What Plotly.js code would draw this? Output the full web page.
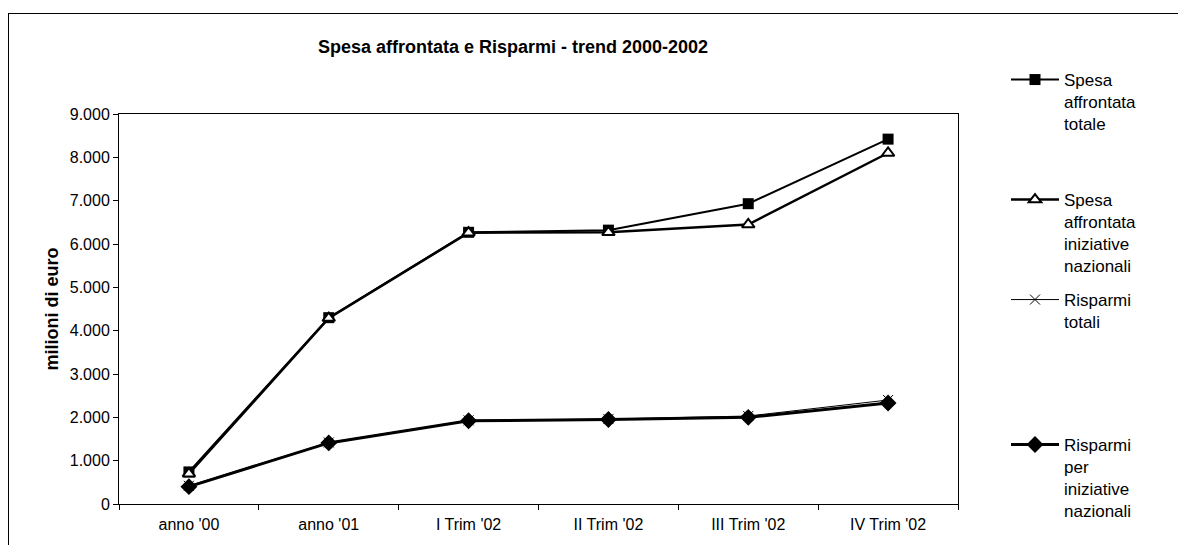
<!DOCTYPE html>
<html>
<head>
<meta charset="utf-8">
<script src="https://cdn.plot.ly/plotly-3.0.1.min.js"></script>
<style>
  html, body { margin: 0; padding: 0; background: #fff; }
  #frame { position: absolute; left: 8px; top: 13px; width: 1178px; height: 545px;
           border-left: 1px solid #000; border-top: 1px solid #000; }
  #chart { position: absolute; left: 0; top: 0; width: 1178px; height: 545px; }
</style>
</head>
<body>
<div id="frame"></div>
<div id="chart"></div>
<script>
const categories = ["anno '00", "anno '01", "I Trim '02", "II Trim '02", "III Trim '02", "IV Trim '02"];
const spesaTotale = [740, 4300, 6270, 6320, 6930, 8420];
const spesaNazionali = [700, 4290, 6260, 6270, 6450, 8100];
const risparmiTotali = [420, 1420, 1930, 1960, 2030, 2400];
const risparmiNazionali = [400, 1410, 1920, 1950, 2000, 2330];
const seriesNames = [
  "Spesa<br>affrontata<br>totale",
  "Spesa<br>affrontata<br>iniziative<br>nazionali",
  "Risparmi<br>totali",
  "Risparmi<br>per<br>iniziative<br>nazionali"
];
const yTickVals = [0, 1000, 2000, 3000, 4000, 5000, 6000, 7000, 8000, 9000];

const FONT = "Liberation Sans, Arial, sans-serif";
const W = 1178, H = 545;

const traces = [
  {
    x: categories, y: spesaTotale, name: seriesNames[0], type: 'scatter', mode: 'lines+markers',
    line: {color: '#000', width: 2},
    marker: {symbol: 'square', size: 11, color: '#000'},
    legend: 'legend'
  },
  {
    x: categories, y: spesaNazionali, name: seriesNames[1], type: 'scatter', mode: 'lines+markers',
    line: {color: '#000', width: 2.5},
    marker: {symbol: 'triangle-up', size: 11, color: '#fff', line: {color: '#000', width: 2}},
    legend: 'legend2'
  },
  {
    x: categories, y: risparmiTotali, name: seriesNames[2], type: 'scatter', mode: 'lines+markers',
    line: {color: '#000', width: 1},
    marker: {symbol: 'x-thin', size: 10, color: '#000', line: {color: '#000', width: 1}},
    legend: 'legend3'
  },
  {
    x: categories, y: risparmiNazionali, name: seriesNames[3], type: 'scatter', mode: 'lines+markers',
    line: {color: '#000', width: 3},
    marker: {symbol: 'diamond', size: 13, color: '#000'},
    legend: 'legend4'
  }
];

function leg(px, py) {
  return {
    xref: 'container', yref: 'container',
    x: px / W, y: 1 - py / H, xanchor: 'left', yanchor: 'top',
    bgcolor: 'rgba(0,0,0,0)', borderwidth: 0, valign: 'top',
    font: {family: FONT, size: 17, color: '#000'},
    itemwidth: 48, itemclick: false, itemdoubleclick: false
  };
}

const layout = {
  width: W, height: H,
  paper_bgcolor: 'rgba(0,0,0,0)', plot_bgcolor: '#fff',
  margin: {l: 119, r: 220, t: 114, b: 41, pad: 0},
  separators: ',.',
  font: {family: FONT, size: 16, color: '#000'},
  title: {
    text: '<b>Spesa affrontata e Risparmi - trend 2000-2002</b>',
    font: {family: FONT, size: 18, color: '#000'},
    xref: 'container', yref: 'container',
    x: 513 / W, xanchor: 'center', y: 1 - 47 / H, yanchor: 'middle'
  },
  showlegend: true,
  legend: leg(1006, 62),
  legend2: leg(1006, 182),
  legend3: leg(1006, 282),
  legend4: leg(1006, 427),
  xaxis: {
    type: 'category', range: [-0.5, 5.5],
    showline: true, linecolor: '#000', linewidth: 1, mirror: true,
    showgrid: false, zeroline: false,
    ticks: 'outside', ticklen: 5, tickcolor: '#000', tickson: 'boundaries',
    ticklabelstandoff: 6,
    tickfont: {family: FONT, size: 16, color: '#000'}
  },
  yaxis: {
    range: [0, 9000], tickvals: yTickVals, tickformat: ',d',
    showline: true, linecolor: '#000', linewidth: 1, mirror: true,
    showgrid: false, zeroline: false,
    ticks: 'outside', ticklen: 5, tickcolor: '#000',
    tickfont: {family: FONT, size: 16, color: '#000'},
    title: {text: '<b>milioni di euro</b>', font: {family: FONT, size: 18, color: '#000'}, standoff: 6}
  }
};

Plotly.newPlot('chart', traces, layout, {displayModeBar: false, staticPlot: true});
</script>
</body>
</html>
